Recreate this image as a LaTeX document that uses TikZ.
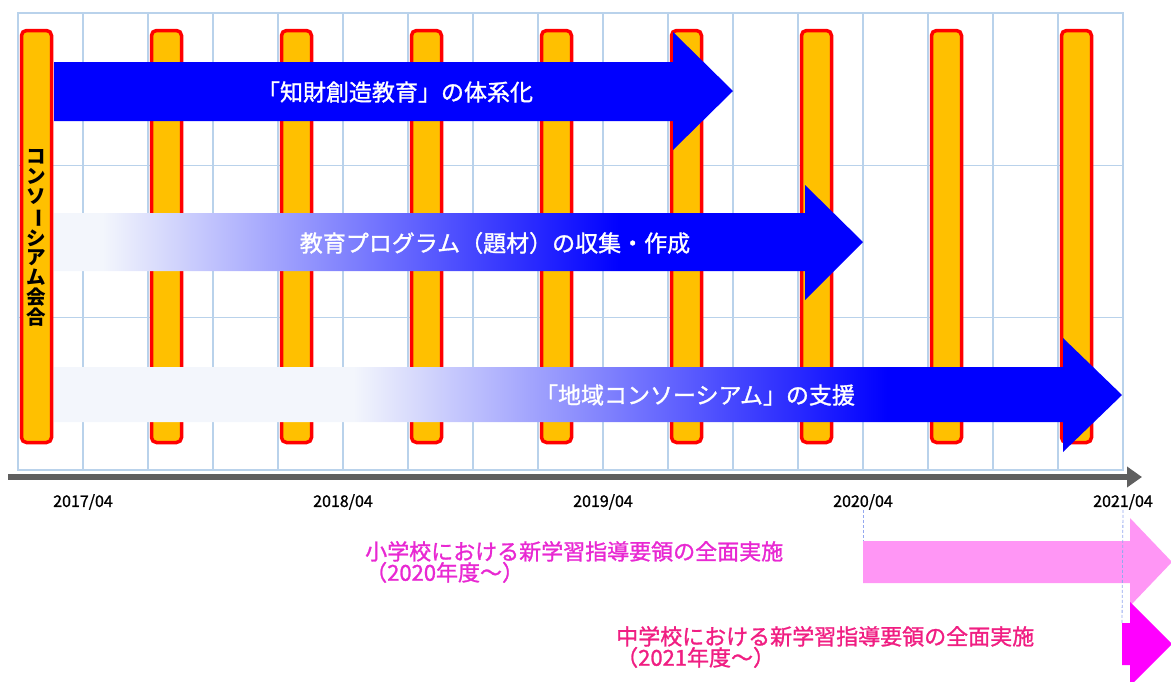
\documentclass[tikz,border=0pt]{standalone}
\usepackage{fontspec}
\usepackage{graphicx}
\setmainfont{Noto Sans CJK JP}
\newfontfamily\medfont[FakeBold=1.2]{Noto Sans CJK JP}
\usetikzlibrary{arrows.meta}

\definecolor{barfill}{RGB}{255,192,0}
\definecolor{barline}{RGB}{255,0,0}
\definecolor{gridblue}{RGB}{185,210,235}
\definecolor{arrowblue}{RGB}{0,0,255}
\definecolor{paleblue}{RGB}{243,246,252}
\definecolor{axisgray}{RGB}{95,95,95}
\definecolor{pinkfill}{RGB}{255,150,245}
\definecolor{magentafill}{RGB}{255,0,255}
\definecolor{pinktext}{RGB}{232,40,210}
\definecolor{redtext}{RGB}{240,30,130}

\pgfdeclarehorizontalshading{progshade}{100bp}{color(0bp)=(paleblue); color(28bp)=(paleblue); color(60bp)=(arrowblue); color(100bp)=(arrowblue)}
\pgfdeclarehorizontalshading{supportshade}{100bp}{color(0bp)=(paleblue); color(39bp)=(paleblue); color(64bp)=(arrowblue); color(100bp)=(arrowblue)}

\begin{document}
\begin{tikzpicture}[x=1pt,y=-1pt]
	%\draw[help lines] (0,0) grid (1171,681);
	\useasboundingbox (0,0) rectangle (1171,681);
	
	\tikzstyle{gridline} = [draw=gridblue,line width=1.2pt]
	\tikzstyle{barnode} = [rectangle,rounded corners=5pt,draw=barline,fill=barfill,line width=3.5pt,minimum width=30pt,minimum height=412pt,inner sep=0pt]
	\tikzstyle{vtext} = [font=\bfseries\fontsize{19.5}{19.9}\selectfont,align=center,inner sep=0pt]
	\tikzstyle{atext} = [text=white,font=\medfont\fontsize{23}{26}\selectfont,inner sep=0pt]
	\tikzstyle{ylabel} = [font=\medfont\fontsize{16}{18}\selectfont,inner sep=0pt]
	\tikzstyle{ntext} = [font=\medfont\fontsize{22}{21}\selectfont,align=left,anchor=west,inner sep=0pt]
	\tikzstyle{guide} = [draw=gridblue!80!blue,densely dashed,line width=0.8pt]
	
	% quarters grid
	\draw[gridline,shift={(18,470)}] (0pt,0pt) grid[xstep=65pt,ystep=152.3333pt] (1105pt,457pt);
	\draw[gridline] (18,13) rectangle (1123,470);
	
	\node[barnode] (meet0) at (36.5,236.5) {};
	\node[barnode] (meet1) at (166.5,236.5) {};
	\node[barnode] (meet2) at (296.5,236.5) {};
	\node[barnode] (meet3) at (426.5,236.5) {};
	\node[barnode] (meet4) at (556.5,236.5) {};
	\node[barnode] (meet5) at (686.5,236.5) {};
	\node[barnode] (meet6) at (816.5,236.5) {};
	\node[barnode] (meet7) at (946.5,236.5) {};
	\node[barnode] (meet8) at (1076.5,236.5) {};
	
	\node[vtext] (meetlabel) at (36.5,238) {コ\\ン\\ソ\\\rotatebox[origin=c]{-90}{ー}\\シ\\ア\\ム\\会\\合};
	
	% the three blue arrows
	\fill[arrowblue] (54,62) -- (673,62) -- (673,32) -- (733,91) -- (673,150) -- (673,121) -- (54,121) -- cycle;
	\shade[shading=progshade] (54,213) -- (805,213) -- (805,185) -- (863,242) -- (805,300) -- (805,271) -- (54,271) -- cycle;
	\shade[shading=supportshade] (54,367) -- (1063,367) -- (1063,338) -- (1122,395) -- (1063,452) -- (1063,422) -- (54,422) -- cycle;
	
	\node[atext] (goal1) at (395,92) {「知財創造教育」の体系化};
	\node[atext] (goal2) at (495,243) {教育プログラム（題材）の収集・作成};
	\node[atext] (goal3) at (695,395) {「地域コンソーシアム」の支援};
	
	% time axis
	\coordinate (tstart) at (8,477);
	\coordinate (tend) at (1142,477);
	\draw[axisgray,line width=6pt,-{Triangle[length=15pt,width=20pt]}] (tstart) -- (tend);
	
	\node[ylabel] (y17) at (83,502) {2017/04};
	\node[ylabel] (y18) at (343,502) {2018/04};
	\node[ylabel] (y19) at (603,502) {2019/04};
	\node[ylabel] (y20) at (863,502) {2020/04};
	\node[ylabel] (y21) at (1123,502) {2021/04};
	
	% curriculum arrows
	\fill[pinkfill] (863,541) -- (1130,541) -- (1130,518) -- (1172,562) -- (1130,606) -- (1130,583) -- (863,583) -- cycle;
	\fill[magentafill] (1122,623) -- (1130,623) -- (1130,602) -- (1172,644) -- (1130,686) -- (1130,665) -- (1122,665) -- cycle;
	
	\coordinate (elem) at (863,541);
	\coordinate (junior) at (1122,623);
	\draw[guide] (y20.south) -- (elem);
	\draw[guide] (y21.south) -- (junior);
	
	\node[ntext,text=pinktext] (elemnote) at (365,562) {小学校における新学習指導要領の全面実施\\（2020年度～）};
	\node[ntext,text=redtext] (juniornote) at (616,647) {中学校における新学習指導要領の全面実施\\（2021年度～）};

\end{tikzpicture}
\end{document}
